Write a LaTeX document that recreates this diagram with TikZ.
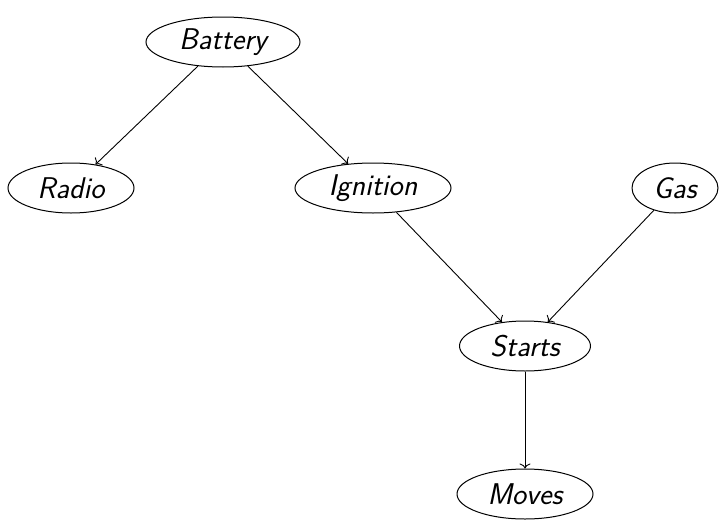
\documentclass[tikz,border=0pt]{standalone}
\usetikzlibrary{shapes.geometric,arrows.meta}
\begin{document}
\begin{tikzpicture}[x=1pt,y=-1pt,
  var/.style={ellipse,draw,line width=1pt,inner sep=0pt,minimum height=50pt,font=\fontsize{30}{36}\selectfont\sffamily\slshape},
  edge/.style={-{To[length=5pt,width=11pt]},line width=0.9pt}]
\useasboundingbox (0,0) rectangle (720,522);
\node[var,minimum width=154pt] (battery) at (223,42) {Battery};
\node[var,minimum width=126pt] (radio) at (71,188) {Radio};
\node[var,minimum width=156pt] (ignition) at (373,188) {Ignition};
\node[var,minimum width=86pt] (gas) at (675,188) {Gas};
\node[var,minimum width=131pt] (starts) at (525,346) {Starts};
\node[var,minimum width=136pt] (moves) at (525,494) {Moves};
\draw[edge] (battery) -- (radio);
\draw[edge] (battery) -- (ignition);
\draw[edge] (ignition) -- (starts);
\draw[edge] (gas) -- (starts);
\draw[edge] (starts) -- (moves);
\end{tikzpicture}
\end{document}
